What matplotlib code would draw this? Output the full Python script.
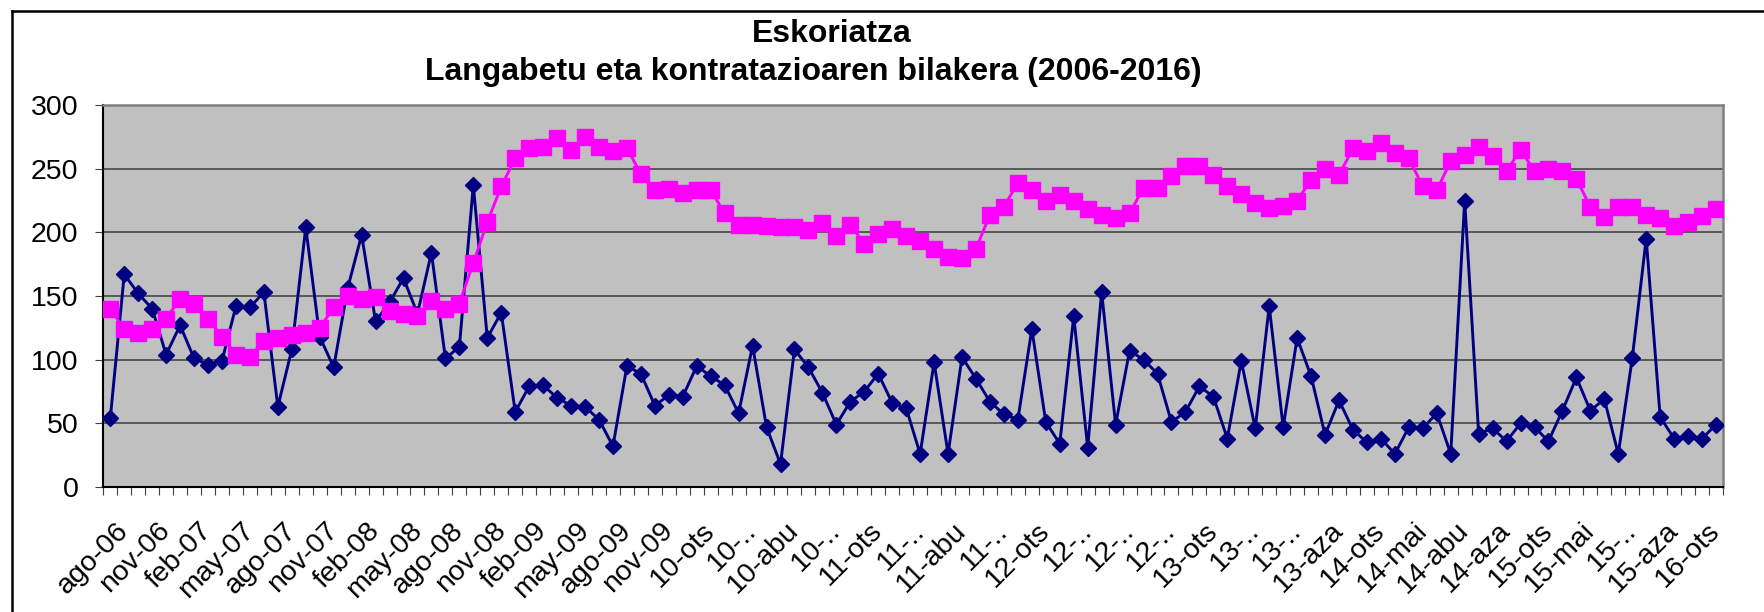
import numpy as np
import matplotlib
matplotlib.use("Agg")
import matplotlib.pyplot as plt
from matplotlib.lines import Line2D
from matplotlib.transforms import ScaledTranslation

# Eskoriatza: hileko datuak, 2006ko abuztua - 2016ko martxoa
kontratuak = [54, 167, 152, 140, 104, 127, 101, 96, 99, 142,
              141, 153, 63, 108, 204, 118, 94, 156, 198, 130,
              145, 164, 136, 184, 101, 110, 237, 117, 137, 59,
              79, 80, 70, 64, 63, 53, 32, 95, 89, 64,
              72, 71, 95, 87, 80, 58, 111, 47, 18, 108,
              94, 74, 49, 67, 75, 89, 66, 62, 26, 98,
              26, 102, 85, 67, 57, 53, 124, 51, 34, 134,
              31, 153, 49, 107, 100, 89, 51, 59, 79, 71,
              38, 99, 46, 142, 47, 117, 87, 41, 68, 45,
              35, 38, 26, 47, 46, 58, 26, 225, 42, 46,
              36, 50, 47, 36, 60, 86, 60, 69, 26, 101,
              195, 55, 38, 40, 38, 49]

langabetuak = [140, 124, 121, 124, 132, 148, 144, 132, 118, 104,
               102, 115, 117, 119, 121, 125, 141, 150, 148, 149,
               138, 136, 134, 146, 140, 144, 176, 208, 236, 258,
               266, 267, 274, 265, 275, 267, 264, 266, 246, 233,
               234, 231, 233, 233, 215, 206, 206, 205, 204, 204,
               202, 207, 197, 206, 191, 199, 203, 197, 193, 187,
               181, 180, 187, 214, 220, 239, 233, 225, 229, 225,
               218, 214, 211, 215, 235, 235, 244, 252, 252, 245,
               236, 230, 223, 219, 221, 225, 241, 250, 245, 266,
               264, 270, 262, 258, 236, 233, 256, 261, 267, 260,
               248, 265, 248, 250, 248, 242, 220, 212, 220, 220,
               214, 211, 205, 208, 213, 218]

# ardatzeko etiketak (3 hilabetean behin)
etiketak = ["ago-06", "nov-06", "feb-07", "may-07", "ago-07", "nov-07",
            "feb-08", "may-08", "ago-08", "nov-08", "feb-09", "may-09",
            "ago-09", "nov-09", "10-ots", "10-..", "10-abu", "10-..",
            "11-ots", "11-..", "11-abu", "11-..", "12-ots", "12-..",
            "12-..", "12-..", "13-ots", "13-..", "13-..", "13-aza",
            "14-ots", "14-mai", "14-abu", "14-aza", "15-ots", "15-mai",
            "15-..", "15-aza", "16-ots"]

plt.rcParams['font.family'] = ['Liberation Sans', 'DejaVu Sans']

W, H = 1764, 612
fig = plt.figure(figsize=(W / 100, H / 100), dpi=100, facecolor='white')
ax = fig.add_axes([103.3 / W, 1 - 487 / H, (1723 - 103.3) / W, (487 - 105) / H])
ax.set_facecolor('#c0c0c0')

x = np.arange(len(kontratuak))
ax.plot(x, kontratuak, color='#000080', lw=2.1, marker='D', ms=7.8,
        markeredgecolor='#000080', zorder=3)
ax.plot(x, langabetuak, color='#ff00ff', lw=2.1, marker='s', ms=11,
        markeredgecolor='#ff00ff', zorder=4)

ax.set_xlim(-0.5, len(x) - 0.5)
ax.set_ylim(0, 300)
ax.set_yticks(np.arange(0, 301, 50))
ax.yaxis.grid(True, color='#3c3c3c', lw=1.1)
ax.set_axisbelow(True)

# mugak kategorien artean
ax.set_xticks(np.arange(-0.5, len(x), 1), minor=True)
ax.tick_params(axis='x', which='minor', length=6, width=0.8, color='#404040')
ax.set_xticks(np.arange(0, len(x), 3))
ax.set_xticklabels(etiketak, rotation=45, ha='right', va='top',
                   rotation_mode='anchor', fontsize=20.5)
ax.tick_params(axis='x', which='major', length=0, pad=22)
offset = ScaledTranslation(5 / 100, 0, fig.dpi_scale_trans)
for lab in ax.get_xticklabels():
    lab.set_transform(lab.get_transform() + offset)

ax.tick_params(axis='y', length=6, width=0.8, color='#404040', pad=12,
               labelsize=20.5)

for s in ['left', 'bottom']:
    ax.spines[s].set_color('black')
    ax.spines[s].set_linewidth(1.5)
for s in ['top', 'right']:
    ax.spines[s].set_color('#808080')
    ax.spines[s].set_linewidth(1.8)

fig.text(832 / W, 1 - 42 / H, "Eskoriatza", ha='center', va='baseline',
         fontsize=23, fontweight='bold')
fig.text(813 / W, 1 - 80 / H, "Langabetu eta kontratazioaren bilakera (2006-2016)",
         ha='center', va='baseline', fontsize=23, fontweight='bold')

# kanpoko markoa
fig.add_artist(Line2D([12 / W, 12 / W], [0, 1 - 11 / H], color='black', lw=1.8,
                      transform=fig.transFigure))
fig.add_artist(Line2D([12 / W, 1], [1 - 11 / H, 1 - 11 / H], color='black', lw=1.8,
                      transform=fig.transFigure))

fig.savefig('out.png', dpi=100)
